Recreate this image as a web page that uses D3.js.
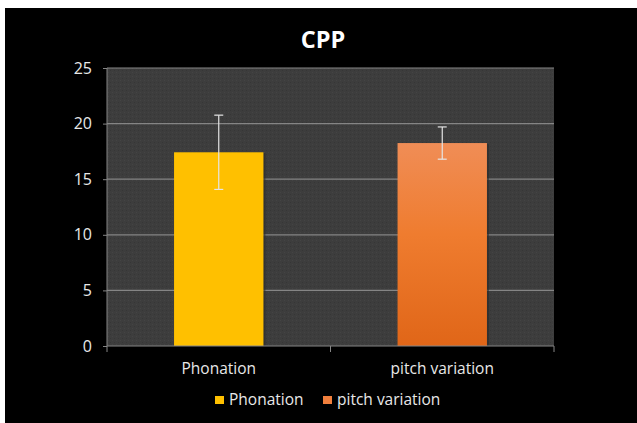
<!DOCTYPE html>
<html><head><meta charset="utf-8">
<script src="https://cdn.jsdelivr.net/npm/d3@7"></script>
<style>html,body{margin:0;padding:0;background:#fff;}svg{display:block;}</style>
</head><body>
<svg id="chart" width="637" height="423"></svg>
<script>
const categories = ["Phonation", "pitch variation"];
const values = [17.42, 18.25];
const errors = [3.34, 1.45];
const yTicks = [0, 5, 10, 15, 20, 25];
const title = "CPP";

const svg = d3.select("#chart");
const W = 637, H = 423;
const font = "'Open Sans', sans-serif";

svg.append("rect").attr("x", 5).attr("y", 8).attr("width", W - 5).attr("height", H - 8).attr("fill", "#000");

const m = {left: 107, right: 554, top: 68, bottom: 346};
const x = d3.scaleBand().domain(categories).range([m.left, m.right]).paddingInner(0.6).paddingOuter(0.3);
const xo = d3.scaleBand().domain(categories).range([m.left, m.right]);
const y = d3.scaleLinear().domain([0, 25]).range([m.bottom, m.top]);

const defs = svg.append("defs");
const g1 = defs.append("linearGradient").attr("id", "gOr").attr("x1", 0).attr("y1", 0).attr("x2", 0).attr("y2", 1);
g1.append("stop").attr("offset", "0%").attr("stop-color", "#F08D56");
g1.append("stop").attr("offset", "45%").attr("stop-color", "#EF7C2F");
g1.append("stop").attr("offset", "100%").attr("stop-color", "#E06618");
const pat = defs.append("pattern").attr("id", "tex").attr("width", 4).attr("height", 4).attr("patternUnits", "userSpaceOnUse");
pat.append("rect").attr("width", 4).attr("height", 4).attr("fill", "#3d3d3d");
pat.append("rect").attr("x", 0).attr("y", 0).attr("width", 1).attr("height", 1).attr("fill", "#444");
pat.append("rect").attr("x", 2).attr("y", 2).attr("width", 1).attr("height", 1).attr("fill", "#363636");

svg.append("rect").attr("x", m.left).attr("y", m.top).attr("width", m.right - m.left).attr("height", m.bottom - m.top).attr("fill", "url(#tex)");

// gridlines
svg.append("g").selectAll("line").data(yTicks.filter(d => d > 0)).join("line")
  .attr("x1", m.left).attr("x2", m.right).attr("y1", d => y(d)).attr("y2", d => y(d))
  .attr("stroke", "#858585").attr("stroke-width", 1.2);

// y axis
const yAxis = svg.append("g").attr("transform", `translate(${m.left},0)`)
  .call(d3.axisLeft(y).tickValues(yTicks).tickSize(4).tickPadding(11));
yAxis.select(".domain").attr("stroke", "#858585").attr("d", `M0,${m.top}V${m.bottom}`);
yAxis.selectAll(".tick line").attr("stroke", "#858585");
yAxis.selectAll("text").attr("fill", "#e8e8e8").attr("font-family", font).attr("font-size", 16);

// bars
const colors = ["#FFC000", "url(#gOr)"];
svg.append("g").selectAll("rect").data(categories).join("rect")
  .attr("x", d => x(d) + 2).attr("y", (d, i) => y(values[i]) + 1).attr("width", x.bandwidth()).attr("height", (d, i) => y(0) - y(values[i]) - 1)
  .attr("fill", "#2a2a2a").attr("opacity", 0.6);
svg.append("g").selectAll("rect").data(categories).join("rect")
  .attr("x", d => x(d)).attr("y", (d, i) => y(values[i])).attr("width", x.bandwidth()).attr("height", (d, i) => y(0) - y(values[i]))
  .attr("fill", (d, i) => colors[i]);

// error bars
const eb = svg.append("g").attr("stroke", "#e6e6e6").attr("stroke-width", 1.2);
categories.forEach((c, i) => {
  const cx = x(c) + x.bandwidth() / 2;
  eb.append("line").attr("x1", cx).attr("x2", cx).attr("y1", y(values[i] + errors[i])).attr("y2", y(values[i] - errors[i]));
  [values[i] + errors[i], values[i] - errors[i]].forEach(v => {
    eb.append("line").attr("x1", cx - 4.5).attr("x2", cx + 4.5).attr("y1", y(v)).attr("y2", y(v));
  });
});

// x axis
const xAxis = svg.append("g").attr("transform", `translate(0,${m.bottom})`)
  .call(d3.axisBottom(xo).tickSize(0).tickPadding(17));
xAxis.select(".domain").attr("stroke", "#858585").attr("d", `M${m.left},0H${m.right}`);
xAxis.selectAll("text").attr("fill", "#e8e8e8").attr("font-family", font).attr("font-size", 15.5).attr("dy", "0.71em");
xAxis.selectAll("text").attr("transform", (d, i) => `translate(${x(d) + x.bandwidth()/2 - (xo(d) + xo.bandwidth()/2)},0)`);
// boundary ticks
svg.append("g").selectAll("line").data([m.left, xo(categories[1]), m.right]).join("line")
  .attr("x1", d => d).attr("x2", d => d).attr("y1", m.bottom).attr("y2", m.bottom + 6)
  .attr("stroke", "#858585");

// title
svg.append("text").attr("x", 323).attr("y", 48).attr("text-anchor", "middle")
  .attr("fill", "#fff").attr("font-family", font).attr("font-weight", "bold").attr("font-size", 23.5).text(title);

// legend
const legColors = ["#FFC000", "#F07F3C"];
const legX = [215, 323];
const lg = svg.append("g");
categories.forEach((c, i) => {
  lg.append("rect").attr("x", legX[i]).attr("y", 396).attr("width", 9).attr("height", 8).attr("fill", legColors[i]);
  lg.append("text").attr("x", legX[i] + 14).attr("y", 405).attr("fill", "#e8e8e8")
    .attr("font-family", font).attr("font-size", 15.5).text(c);
});
</script>
</body></html>
